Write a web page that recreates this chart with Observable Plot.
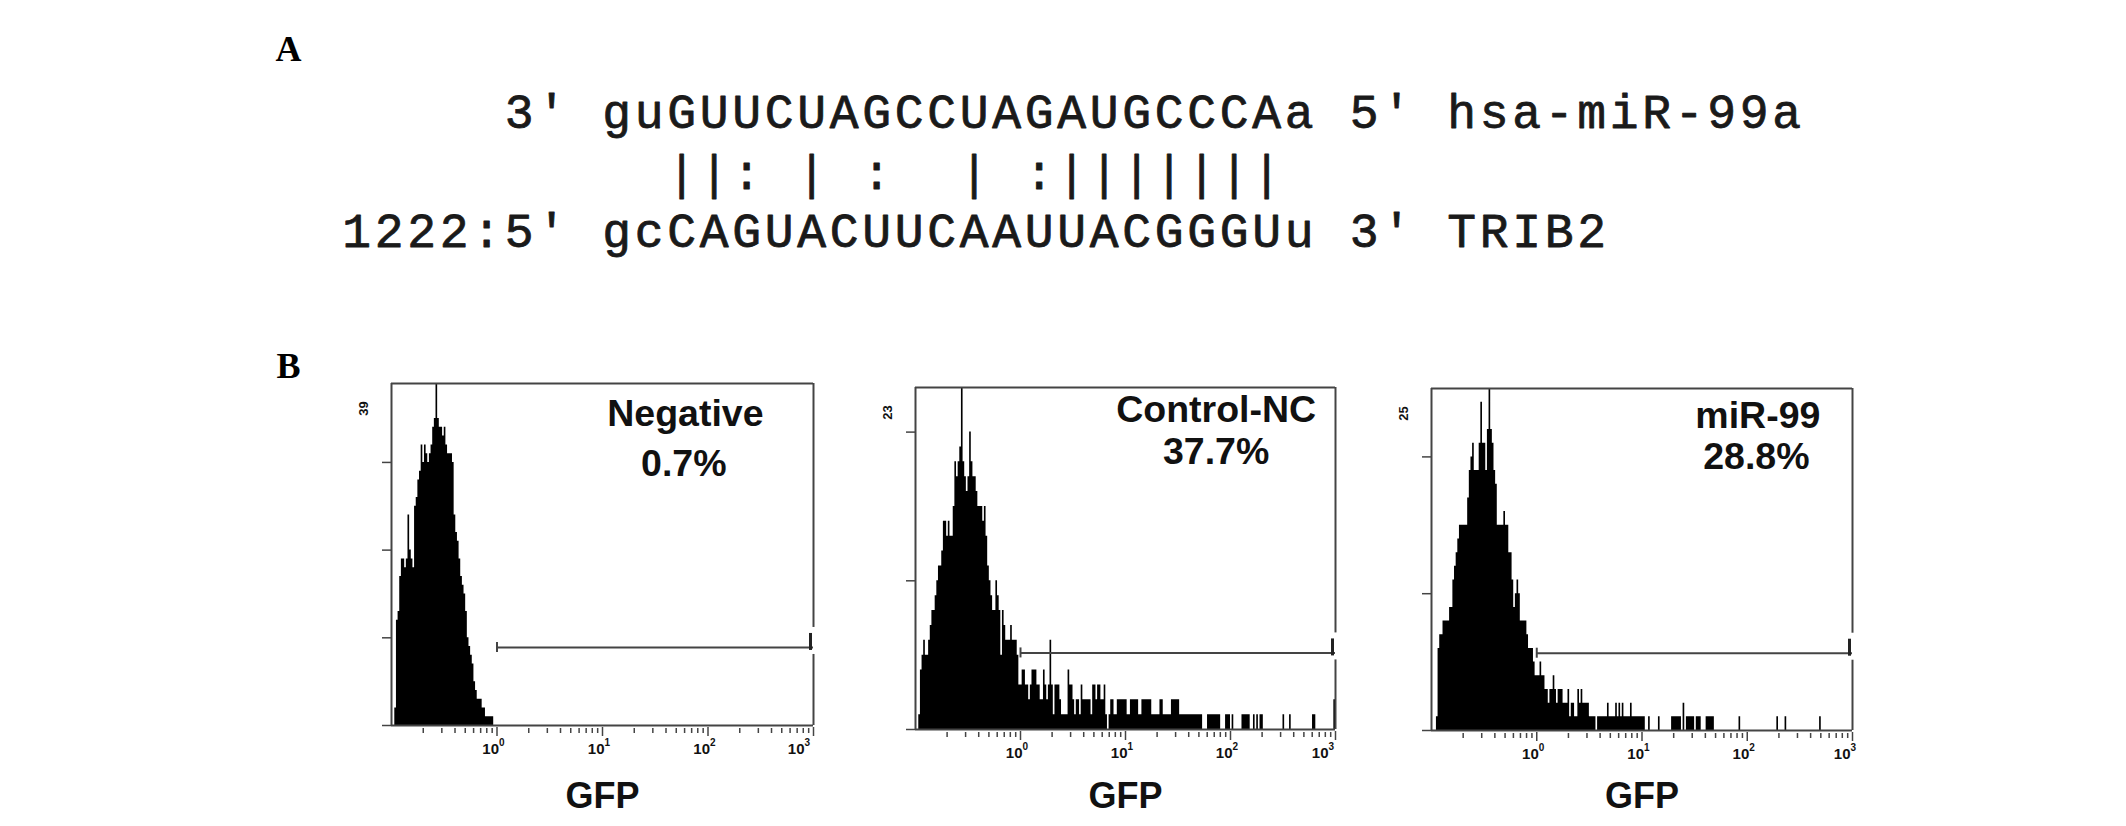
<!DOCTYPE html>
<html><head><meta charset="utf-8">
<script src="https://cdn.jsdelivr.net/npm/d3@7"></script>
<script src="https://cdn.jsdelivr.net/npm/@observablehq/plot@0.6"></script>
<style>
html,body{margin:0;padding:0;background:#fff;}
#fig{position:relative;width:2126px;height:826px;overflow:hidden;background:#fff;}
</style></head>
<body><div id="fig"></div>
<script>
// ---------------- DATA ----------------
// Panel A: miRNA / target alignment (monospace columns)
const mirnaLine  = "     3' guGUUCUAGCCUAGAUGCCCAa 5' hsa-miR-99a";
const pairLine   = "          ||: | :  | :|||||||";
const targetLine = "1222:5' gcCAGUACUUCAAUUACGGGUu 3' TRIB2";
const panelLetters = ["A", "B"];

// Panel B: flow cytometry GFP histograms
const samples = ["Negative", "Control-NC", "miR-99"];
const gfpPositive = ["0.7%", "37.7%", "28.8%"];
const countMax = [39, 23, 25];
const countTicks = [[0, 10, 20, 30], [0, 10, 20], [0, 10, 20]];
const gfpDomain = [0.1, 1000];
const decadeTicks = [1, 10, 100, 1000];
const decadeExponents = ["0", "1", "2", "3"];
const minorTicks = [0.2, 0.3, 0.4, 0.5, 0.6, 0.7, 0.8, 0.9,
                    2, 3, 4, 5, 6, 7, 8, 9,
                    20, 30, 40, 50, 60, 70, 80, 90,
                    200, 300, 400, 500, 600, 700, 800, 900];
const gateLevels = [8.9, 5.15, 5.65];      // marker (gate) height, in counts
const gateStart = 1;                        // gate from 10^0 ...
const gateEnd = 1000;                       // ... to 10^3
const channelsPerDecade = 64;               // histogram channels (256 over 4 decades)

const negativeFirstChannel = 2;
const negativeCounts = [
  2,12,13,17,19,19,18,19,24,20,
  19,18,25,26,28,29,32,30,32,31,
  30,31,32,34,35,39,35,34,34,33,
  34,32,31,31,31,30,24,22,21,19,
  17,16,15,13,10,9,8,7,5,4,
  3,3,3,2,2,1,1,1,1,1
];

const controlFirstChannel = 2;
const controlCounts = [
  1,4,5,6,5,5,6,7,8,8,
  9,10,11,11,12,14,14,13,14,13,
  13,15,18,17,18,19,23,18,17,16,
  17,20,18,17,17,16,15,15,15,14,
  15,13,11,10,9,8,8,10,9,8,
  5,8,7,6,6,6,7,6,6,6,
  5,3,3,4,4,3,3,2,3,4,
  4,4,3,3,2,2,4,3,2,3,
  6,3,1,3,3,3,2,1,1,1,
  1,4,3,3,2,1,2,2,1,3,
  2,2,2,2,2,1,3,3,2,3,
  3,2,2,3,1,0,1,2,2,1,
  1,2,2,
  2,2,2,2,1,1,2,2,2,2,
  2,1,1,2,2,2,2,2,2,1,
  1,1,1,1,2,2,1,1,1,1,
  1,2,2,2,2,2,1,1,1,1,
  1,1,1,1,1,1,1,1,1,1,
  0,0,0,1,1,1,1,1,1,1,
  1,0,0,0,1,1,1,0,1,0,
  0,0,0,0,1,1,1,1,1,0,
  0,1,0,1,0,1,1,0,0,0,
  0,0,0,0,0,0,0,0,0,1,
  0,0,0,1,0,0,0,0,0,0,
  0,0,0,0,0,0,0,1,1,0,
  0,0,0,0,0,0,0,0,0,0,
  2
];

const mir99FirstChannel = 3;
const mir99Counts = [
  1,6,7,7,8,8,8,8,9,9,
  11,12,13,14,15,15,15,15,15,17,
  19,20,21,19,19,19,21,24,21,21,
  19,22,25,22,21,19,18,15,15,15,
  15,16,15,15,13,13,11,9,10,11,
  10,8,8,8,8,7,6,6,6,5,
  4,4,4,5,4,4,3,3,2,3,
  3,4,3,2,3,3,3,2,2,2,
  3,1,2,2,1,1,3,2,3,2,
  2,2,2,1,1,1,1,0,1,
  1,1,1,1,1,2,1,1,1,1,
  2,1,2,1,2,1,1,1,1,2,
  1,1,1,1,1,
  1,1,1,0,0,1,0,0,0,0,
  0,1,0,0,0,0,0,0,0,1,
  1,1,1,1,1,0,2,0,1,1,
  1,1,1,0,1,1,1,0,0,0,
  1,1,1,1,1,0,0,0,0,0,
  0,0,0,0,0,0,0,0,0,0,
  1,0,0,0,0,0,0,0,0,0,
  0,0,0,0,0,0,0,0,0,0,
  0,0,0,1,0,0,0,0,1,0,
  0,0,0,0,0,0,0,0,0,0,
  0,0,0,0,0,0,0,0,0,1
];

// ---------------- LAYOUT / STYLE ----------------
const fig = document.getElementById("fig");
const ink = "#111";
const frameColor = "#444";
const sansFont = "'Liberation Sans', Arial, Helvetica, sans-serif";
const monoFont = "'Liberation Mono', 'Courier New', monospace";

function place(svg, left, top) {
  svg.style.position = "absolute";
  svg.style.left = left + "px";
  svg.style.top = top + "px";
  svg.style.background = "transparent";
  svg.style.maxWidth = "none";
  fig.appendChild(svg);
}

function charsOf(str, line) {
  return Array.from(str).map((ch, col) => ({ch, col, line})).filter(d => d.ch !== " ");
}

// ---------- Panel A ----------
const seqChars = [...charsOf(mirnaLine, 0), ...charsOf(targetLine, 2)];
const pairChars = charsOf(pairLine, 1);

const plotA = Plot.plot({
  width: 2126, height: 826, margin: 0,
  x: {domain: [0, 40], range: [340, 1640], axis: null},
  y: {domain: [0, 2], range: [127, 246], axis: null},
  style: {background: "transparent"},
  marks: [
    Plot.text(seqChars, {x: d => d.col + 0.5, y: "line", text: "ch", textAnchor: "middle", lineAnchor: "bottom",
      fontFamily: monoFont, fontSize: 48, fill: "#1a1a1a", stroke: "#1a1a1a", strokeWidth: 0.8}),
    Plot.text(pairChars, {x: d => d.col + 0.5, y: "line", text: "ch", textAnchor: "middle", lineAnchor: "bottom",
      dy: 2, fontFamily: monoFont, fontSize: 48, fill: "#1a1a1a", stroke: "#1a1a1a", strokeWidth: 0.8}),
    Plot.text([panelLetters[0]], {frameAnchor: "top-left", text: d => d, dx: 288, dy: 60, textAnchor: "middle", lineAnchor: "bottom",
      fontFamily: "'Liberation Serif', 'Times New Roman', serif", fontWeight: "bold", fontSize: 36, fill: "#000"}),
    Plot.text([panelLetters[1]], {frameAnchor: "top-left", text: d => d, dx: 288, dy: 377, textAnchor: "middle", lineAnchor: "bottom",
      fontFamily: "'Liberation Serif', 'Times New Roman', serif", fontWeight: "bold", fontSize: 36, fill: "#000"})
  ]
});
place(plotA, 0, 0);

// ---------- Panel B ----------
const panelData = [
  {first: negativeFirstChannel, counts: negativeCounts},
  {first: controlFirstChannel, counts: controlCounts},
  {first: mir99FirstChannel, counts: mir99Counts}
];
const layoutB = [
  {left: 331, top: 353, width: 502, gfpDy: 82, lastDx: -9, nameAt: [61, 34.2], pctAt: [59, 28.5]},
  {left: 855, top: 357, width: 500, gfpDy: 78, lastDx: -7, nameAt: [73, 20.68], pctAt: [73, 17.88]},
  {left: 1371, top: 358, width: 501, gfpDy: 77, lastDx: -2, nameAt: [126, 22.1], pctAt: [122, 19.1]}
];

function histPoints(first, counts) {
  const pts = counts.map((c, j) => ({x: Math.pow(10, -1 + (first + j) / channelsPerDecade), y: c}));
  pts.push({x: Math.pow(10, -1 + (first + counts.length) / channelsPerDecade), y: 0});
  return pts;
}

samples.forEach((name, k) => {
  const L = layoutB[k];
  const ymax = countMax[k];
  const gate = gateLevels[k];
  const pts = histPoints(panelData[k].first, panelData[k].counts);
  const line = {stroke: frameColor, strokeWidth: 2};
  const txt = {fontFamily: sansFont, fontWeight: "bold", fill: ink};
  const p = Plot.plot({
    width: L.width, height: 467,
    marginLeft: 60, marginRight: 20, marginTop: 30, marginBottom: 95,
    x: {type: "log", domain: gfpDomain, axis: null},
    y: {domain: [0, ymax], axis: null},
    style: {background: "transparent", fontFamily: sansFont},
    marks: [
      Plot.areaY(pts, {x: "x", y: "y", curve: "step-after", fill: "#000"}),
      // frame
      Plot.ruleY([ymax], {x1: gfpDomain[0], x2: gfpDomain[1], ...line}),
      Plot.ruleY([0], {x1: gfpDomain[0], x2: gfpDomain[1], ...line}),
      Plot.ruleX([gfpDomain[0]], {y1: 0, y2: ymax, ...line}),
      Plot.ruleX([gfpDomain[1]], {y1: ymax, y2: gate, insetBottom: 20, ...line}),
      Plot.ruleX([gfpDomain[1]], {y1: gate, y2: 0, insetTop: 7, ...line}),
      // y ticks
      Plot.ruleY(countTicks[k], {x1: gfpDomain[0], x2: gfpDomain[0], insetLeft: -9, stroke: frameColor, strokeWidth: 1.5}),
      Plot.text([ymax], {x: gfpDomain[0], y: ymax, text: d => String(d), rotate: -90, dx: -27.5, dy: 25,
        textAnchor: "middle", lineAnchor: "middle", fontSize: 13, ...txt}),
      // x ticks
      Plot.ruleX(minorTicks, {x: d => d, y1: 0, y2: 0, insetTop: 8, insetBottom: -3, stroke: frameColor, strokeWidth: 1.5}),
      Plot.ruleX(decadeTicks, {x: d => d, y1: 0, y2: 0, insetTop: 11, insetBottom: -2, stroke: frameColor, strokeWidth: 1.5}),
      Plot.text(decadeTicks.slice(0, 3), {x: d => d, y: 0, text: () => "10", textAnchor: "end", lineAnchor: "bottom",
        dx: 2, dy: 28, fontSize: 15, ...txt}),
      Plot.text(decadeTicks.slice(0, 3), {x: d => d, y: 0, text: (d, i) => decadeExponents[i], textAnchor: "start", lineAnchor: "bottom",
        dx: 2, dy: 20, fontSize: 10, ...txt}),
      Plot.text(decadeTicks.slice(3), {x: d => d, y: 0, text: () => "10", textAnchor: "end", lineAnchor: "bottom",
        dx: L.lastDx, dy: 28, fontSize: 15, ...txt}),
      Plot.text(decadeTicks.slice(3), {x: d => d, y: 0, text: () => decadeExponents[3], textAnchor: "start", lineAnchor: "bottom",
        dx: L.lastDx, dy: 20, fontSize: 10, ...txt}),
      // gate marker
      Plot.ruleY([gate], {x1: gateStart, x2: gateEnd, stroke: frameColor, strokeWidth: 2}),
      Plot.ruleX([gateStart], {y1: gate, y2: gate, insetTop: -5, insetBottom: -5, stroke: frameColor, strokeWidth: 2}),
      Plot.ruleX([gateEnd], {y1: gate, y2: gate, insetTop: -14, insetBottom: -3, dx: -3, stroke: "#222", strokeWidth: 3}),
      // annotations
      Plot.text([name], {x: L.nameAt[0], y: L.nameAt[1], text: d => d, textAnchor: "middle", lineAnchor: "bottom", fontSize: 37.5, ...txt}),
      Plot.text([gfpPositive[k]], {x: L.pctAt[0], y: L.pctAt[1], text: d => d, textAnchor: "middle", lineAnchor: "bottom", fontSize: 37.5, ...txt}),
      Plot.text(["GFP"], {x: 10, y: 0, text: d => d, dy: L.gfpDy, textAnchor: "middle", lineAnchor: "bottom", fontSize: 36, ...txt})
    ]
  });
  place(p, L.left, L.top);
});
</script>
</body></html>
